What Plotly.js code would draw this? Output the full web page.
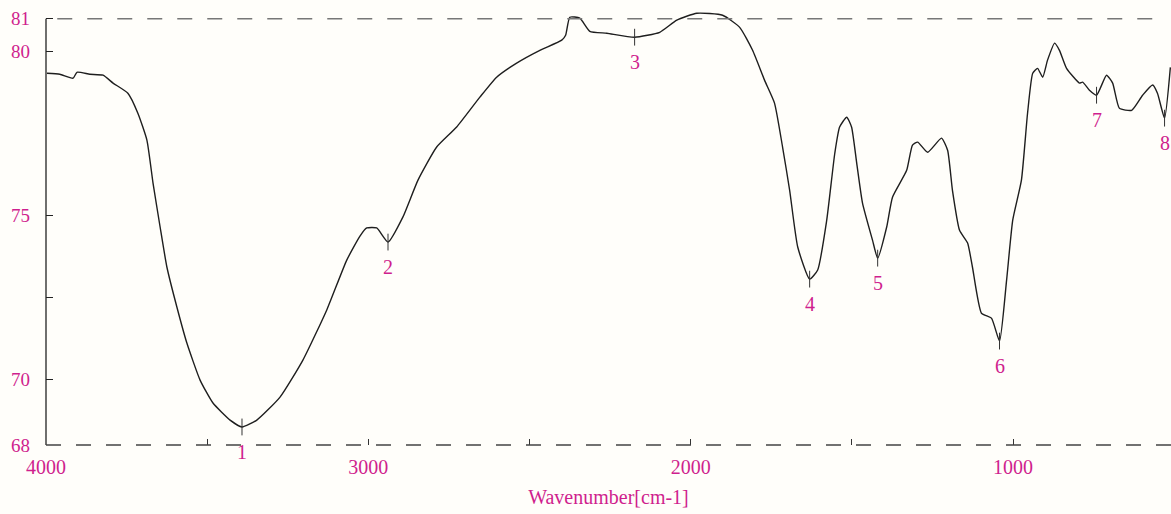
<!DOCTYPE html>
<html>
<head>
<meta charset="utf-8">
<script src="https://cdn.plot.ly/plotly-3.0.1.min.js"></script>
<style>
  html, body { margin: 0; padding: 0; background: #fffefa; }
  #chart { width: 1171px; height: 514px; }
</style>
</head>
<body>
<div id="chart"></div>
<script>
// FT-IR spectrum: wavenumber (cm-1) vs transmittance (%)
const wavenumber = [
  3997, 3957, 3916, 3904, 3864, 3823, 3792, 3746, 3715, 3687,
  3668, 3646, 3625, 3594, 3563, 3522, 3482, 3429, 3392, 3346,
  3274, 3203, 3129, 3067, 3026, 3005, 2974, 2939, 2893, 2846,
  2788, 2726, 2654, 2602, 2540, 2468, 2400, 2388, 2375, 2344,
  2313, 2260, 2174, 2096, 2043, 1981, 1901, 1848, 1808, 1771,
  1740, 1715, 1693, 1668, 1631, 1606, 1578, 1553, 1538, 1516,
  1501, 1485, 1467, 1436, 1420, 1392, 1374, 1330, 1312, 1296,
  1265, 1222, 1203, 1188, 1166, 1141, 1126, 1098, 1067, 1042,
  1020, 1001, 974, 955, 939, 924, 908, 893, 871, 856,
  834, 794, 784, 763, 741, 710, 691, 670, 632, 598,
  567, 552, 530, 512
];
const transmittance = [
  79.34, 79.31, 79.19, 79.37, 79.31, 79.28, 79.04, 78.73, 78.12, 77.30,
  75.99, 74.65, 73.43, 72.21, 71.11, 69.98, 69.28, 68.76, 68.55, 68.76,
  69.46, 70.59, 72.12, 73.64, 74.37, 74.62, 74.62, 74.19, 74.95, 76.08,
  77.09, 77.70, 78.61, 79.22, 79.65, 80.04, 80.35, 80.50, 81.05, 81.02,
  80.62, 80.56, 80.44, 80.59, 80.96, 81.17, 81.11, 80.74, 80.04, 79.13,
  78.43, 77.09, 75.77, 74.04, 73.06, 73.34, 74.86, 76.90, 77.70, 78.00,
  77.70, 76.60, 75.38, 74.25, 73.70, 74.65, 75.56, 76.38, 77.15, 77.24,
  76.93, 77.36, 76.99, 75.77, 74.55, 74.16, 73.43, 72.02, 71.87, 71.17,
  73.03, 74.86, 76.08, 78.12, 79.34, 79.49, 79.22, 79.74, 80.26, 80.04,
  79.49, 79.04, 79.07, 78.82, 78.67, 79.28, 79.04, 78.27, 78.21, 78.67,
  78.98, 78.73, 77.97, 79.52
];

// Marked peaks
const peakLabels = ["1", "2", "3", "4", "5", "6", "7", "8"];
const peakWavenumber = [3392, 2939, 2174, 1631, 1420, 1042, 741, 530];
const peakTransmittance = [68.55, 74.19, 80.44, 73.06, 73.70, 71.17, 78.67, 77.97];

// Axis ticks
const yTickVals = [68, 70, 72.5, 75, 80, 81];
const yTickText = ["68", "70", "", "75", "80", "81"];
const xTickVals = [4000, 3500, 3000, 2500, 2000, 1500, 1000];
const xTickText = ["4000", "", "3000", "", "2000", "", "1000"];

const magenta = "#cf1f8e";
const serif = "Liberation Serif, Times New Roman, serif";

const traces = [
  {
    x: wavenumber, y: transmittance,
    type: "scatter", mode: "lines",
    line: { color: "#1e1e1e", width: 1.4, shape: "spline", smoothing: 0.5 },
    hoverinfo: "x+y", showlegend: false
  },
  {
    x: peakWavenumber, y: peakTransmittance,
    type: "scatter", mode: "markers",
    marker: { symbol: "line-ns-open", size: 12, color: "#333", line: { color: "#333", width: 1 } },
    hoverinfo: "x+y", showlegend: false, cliponaxis: false
  }
];

const annotations = peakLabels.map((t, i) => ({
  x: peakWavenumber[i], y: peakTransmittance[i],
  xref: "x", yref: "y",
  text: t, showarrow: false,
  yshift: -25,
  font: { family: serif, size: 20, color: magenta }
}));

const layout = {
  width: 1171, height: 514,
  margin: { l: 46, r: 0, t: 9, b: 69 },
  paper_bgcolor: "#fffefa",
  plot_bgcolor: "#fffefa",
  showlegend: false,
  xaxis: {
    range: [4000, 510],
    tickvals: xTickVals, ticktext: xTickText,
    ticks: "inside", ticklen: 6, tickcolor: "#333",
    ticklabelstandoff: 8,
    tickfont: { family: serif, size: 20, color: magenta },
    showgrid: false, zeroline: false,
    showline: false,
    title: { text: "Wavenumber[cm-1]", standoff: 12,
             font: { family: serif, size: 20, color: magenta } }
  },
  yaxis: {
    range: [68, 81.3],
    tickvals: yTickVals, ticktext: yTickText,
    ticks: "inside", ticklen: 7, tickcolor: "#222",
    ticklabelstandoff: 15,
    tickfont: { family: serif, size: 19, color: magenta },
    showgrid: false, zeroline: false,
    showline: false
  },
  shapes: [
    { type: "line", xref: "paper", yref: "y", x0: 0, x1: 0, y0: 68, y1: 81,
      line: { color: "#222", width: 1.3 } },
    { type: "line", xref: "paper", yref: "paper", x0: 0, x1: 1, y0: 0, y1: 0,
      line: { color: "#444", width: 1.5, dash: "longdash" } },
    { type: "line", xref: "paper", yref: "y", x0: 0.01, x1: 0.99, y0: 81, y1: 81,
      line: { color: "#777", width: 1.5, dash: "longdash" } }
  ],
  annotations: annotations
};

Plotly.newPlot("chart", traces, layout, { displayModeBar: false, staticPlot: true });
</script>
</body>
</html>
